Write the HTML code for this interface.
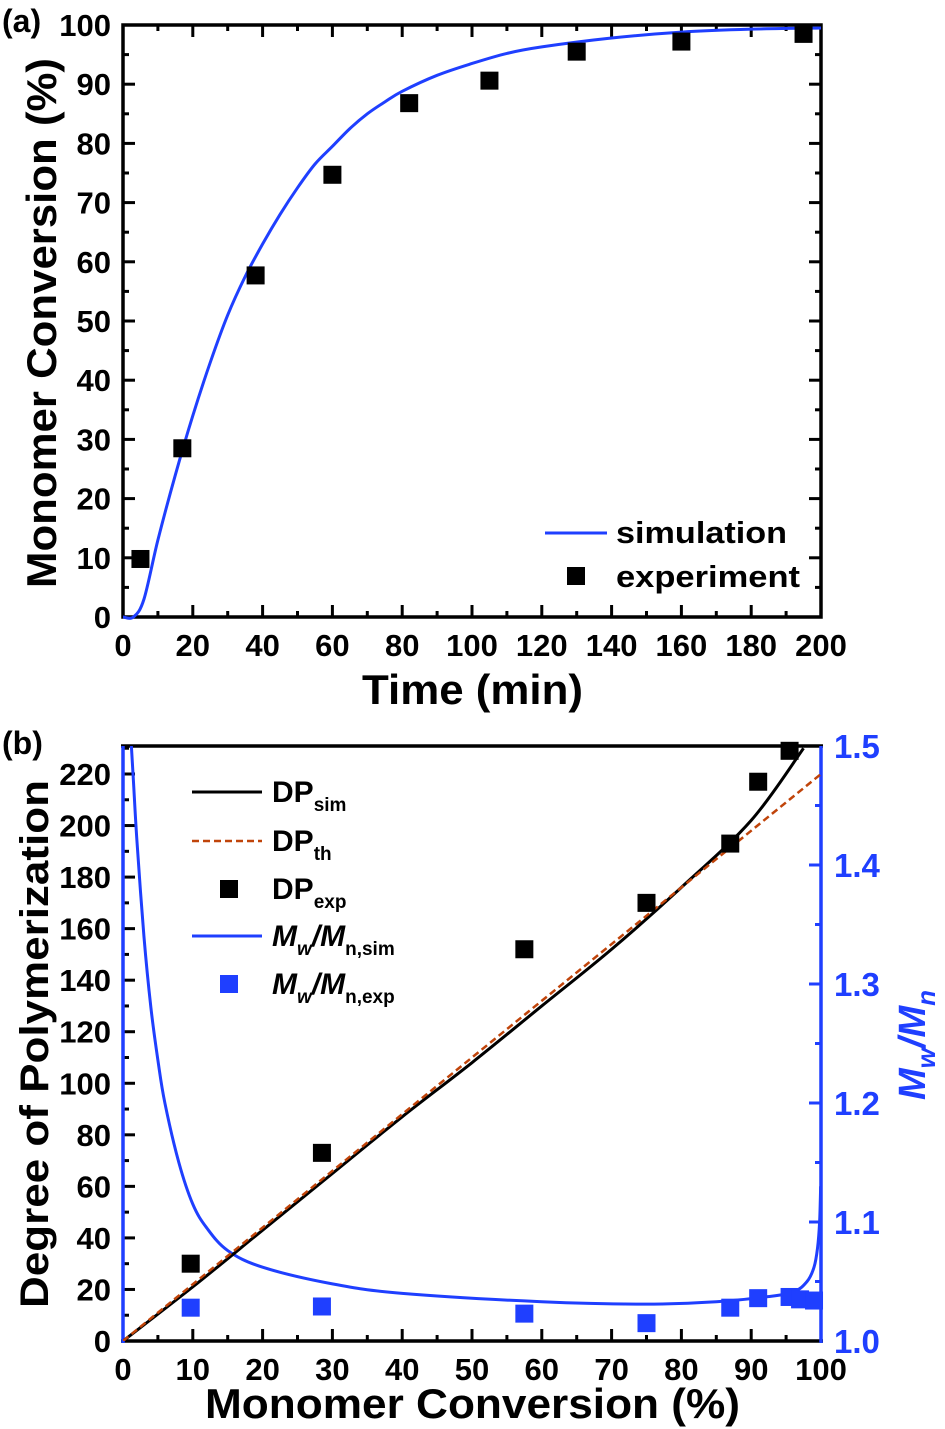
<!DOCTYPE html>
<html><head><meta charset="utf-8"><style>
html,body{margin:0;padding:0;background:#fff}
svg{display:block;font-family:"Liberation Sans",Arial,sans-serif;font-weight:bold}
</style></head><body>
<svg id="fig" width="945" height="1429" viewBox="0 0 945 1429" xmlns="http://www.w3.org/2000/svg"></svg>
<script>
// Panel (a) data
const aSimT=[0,3,6,10,15,20,25,30,35,40,45,50,55,60,65,70,75,80,90,100,110,120,140,160,180,200];
const aSimC=[0,0,3,13,24,34,43,51,57.5,63,68,72.5,76.5,79.5,82.5,85,87,88.8,91.5,93.5,95.2,96.3,97.8,98.8,99.3,99.5];
const aExpT=[5,17,38,60,82,105,130,160,195];
const aExpC=[9.8,28.5,57.7,74.7,86.8,90.6,95.5,97.2,98.5];
const aXTicks=[0,20,40,60,80,100,120,140,160,180,200];
const aYTicks=[0,10,20,30,40,50,60,70,80,90,100];
// Panel (b) data
const bSimX=[0,10,20,30,40,50,60,70,80,90,97.5];
const bSimDP=[0,21,43,65,87,108,130,152,176,202,230];
const bThX=[0,100];
const bThDP=[0,220];
const bExpX=[9.7,28.5,57.5,75,87,91,95.5];
const bExpDP=[30,73,152,170,193,217,229];
const bPdiX=[1.2,1.5,2,3,4,5,6,8,10,12,15,20,30,40,60,75,85,92,96,98,99,99.5,99.8,99.95];
const bPdiSim=[1.5,1.47,1.42,1.34,1.28,1.236,1.2,1.15,1.115,1.095,1.076,1.062,1.048,1.040,1.033,1.031,1.033,1.037,1.041,1.05,1.062,1.078,1.1,1.13];
const bPdiExpX=[9.7,28.5,57.5,75,87,91,95.5,97,99];
const bPdiExp=[1.028,1.029,1.023,1.015,1.028,1.036,1.037,1.035,1.034];
const bXTicks=[0,10,20,30,40,50,60,70,80,90,100];
const bYTicks=[0,20,40,60,80,100,120,140,160,180,200,220];
const bY2Ticks=[1.0,1.1,1.2,1.3,1.4,1.5];

const NS="http://www.w3.org/2000/svg";
const svg=document.getElementById('fig');
function el(tag,attrs,parent,text){const e=document.createElementNS(NS,tag);for(const k in attrs)e.setAttribute(k,attrs[k]);if(text!==undefined)e.textContent=text;(parent||svg).appendChild(e);return e;}
function smooth(pts){let d='M'+pts[0][0]+','+pts[0][1];for(let i=0;i<pts.length-1;i++){const p0=pts[Math.max(0,i-1)],p1=pts[i],p2=pts[i+1],p3=pts[Math.min(pts.length-1,i+2)];
const c1=[p1[0]+(p2[0]-p0[0])/6,p1[1]+(p2[1]-p0[1])/6],c2=[p2[0]-(p3[0]-p1[0])/6,p2[1]-(p3[1]-p1[1])/6];d+=' C'+c1+' '+c2+' '+p2;}return d;}
const BLUE="#1f3fff";
const FS=31;

// ---------- Panel a ----------
const ax=v=>123+v*(821-123)/200, ay=v=>617-v*(617-25)/100;
const ga=el('g',{});


let t=el('text',{x:2,y:32,'font-size':32},ga,'(a)');

aXTicks.forEach((v,i)=>{
  el('line',{x1:ax(v),x2:ax(v),y1:617,y2:605,stroke:'#000','stroke-width':3},ga);
  el('line',{x1:ax(v),x2:ax(v),y1:25,y2:37,stroke:'#000','stroke-width':3},ga);
  if(i<aXTicks.length-1){const m=ax(v+10);el('line',{x1:m,x2:m,y1:617,y2:611,stroke:'#000','stroke-width':3},ga);el('line',{x1:m,x2:m,y1:25,y2:31,stroke:'#000','stroke-width':3},ga);}
  const tx=el('text',{x:ax(v),y:656,'font-size':FS,'text-anchor':'middle'},ga,String(v));
  
});
aYTicks.forEach((v,i)=>{
  el('line',{x1:123,x2:135,y1:ay(v),y2:ay(v),stroke:'#000','stroke-width':3},ga);
  el('line',{x1:821,x2:809,y1:ay(v),y2:ay(v),stroke:'#000','stroke-width':3},ga);
  if(i<aYTicks.length-1){const m=ay(v+5);el('line',{x1:123,x2:129,y1:m,y2:m,stroke:'#000','stroke-width':3},ga);el('line',{x1:821,x2:815,y1:m,y2:m,stroke:'#000','stroke-width':3},ga);}
  const ty=el('text',{x:111,y:ay(v)+11,'font-size':FS,'text-anchor':'end'},ga,String(v));
  
});
el('rect',{x:123,y:25,width:698,height:592,fill:'none',stroke:'#000','stroke-width':3.5},ga);
t=el('text',{x:362,y:704,'font-size':42,textLength:221,lengthAdjust:'spacingAndGlyphs'},ga,'Time (min)');

t=el('text',{x:0,y:0,'font-size':42,textLength:530,lengthAdjust:'spacingAndGlyphs',transform:'translate(56,588) rotate(-90)'},ga,'Monomer Conversion (%)');

let p=el('path',{d:smooth(aSimT.map((v,i)=>[ax(v),ay(aSimC[i])])),fill:'none',stroke:BLUE,'stroke-width':3},ga);

aExpT.forEach((v,i)=>{const r=el('rect',{x:ax(v)-9,y:ay(aExpC[i])-9,width:18,height:18,fill:'#000'},ga);
});
el('line',{x1:545,x2:607,y1:533,y2:533,stroke:BLUE,'stroke-width':3},ga);
t=el('text',{x:616,y:543,'font-size':31,textLength:171,lengthAdjust:'spacingAndGlyphs'},ga,'simulation');
el('rect',{x:567,y:567,width:18,height:18,fill:'#000'},ga);
t=el('text',{x:616,y:587,'font-size':31,textLength:184,lengthAdjust:'spacingAndGlyphs'},ga,'experiment');

// ---------- Panel b ----------
const bx=v=>123+v*(821-123)/100, by=v=>1341-v*(1341-774)/220, by2=v=>1341-(v-1)*(1341-746)/0.5;
const gb=el('g',{});


t=el('text',{x:2,y:754,'font-size':32},gb,'(b)');

bXTicks.forEach((v,i)=>{
  el('line',{x1:bx(v),x2:bx(v),y1:1341,y2:1329,stroke:'#000','stroke-width':3},gb);
  if(i<bXTicks.length-1){const m=bx(v+5);el('line',{x1:m,x2:m,y1:1341,y2:1335,stroke:'#000','stroke-width':3},gb);}
  const tx=el('text',{x:bx(v),y:1380,'font-size':FS,'text-anchor':'middle'},gb,String(v));
  
});
bYTicks.forEach(v=>{
  el('line',{x1:123,x2:135,y1:by(v),y2:by(v),stroke:'#000','stroke-width':3},gb);
  el('line',{x1:123,x2:129,y1:by(v+10),y2:by(v+10),stroke:'#000','stroke-width':3},gb);
  const ty=el('text',{x:111,y:by(v)+11,'font-size':FS,'text-anchor':'end'},gb,String(v));
  
});
bY2Ticks.forEach((v,i)=>{
  el('line',{x1:821,x2:809,y1:by2(v),y2:by2(v),stroke:BLUE,'stroke-width':3},gb);
  if(i<bY2Ticks.length-1){const m=by2(v+0.05);el('line',{x1:821,x2:815,y1:m,y2:m,stroke:BLUE,'stroke-width':3},gb);}
  const ty=el('text',{x:834,y:by2(v)+12,'font-size':33,fill:BLUE},gb,v.toFixed(1));
  
});
el('line',{x1:121,x2:823,y1:1341,y2:1341,stroke:'#000','stroke-width':3.5},gb);
el('line',{x1:121,x2:823,y1:746,y2:746,stroke:'#000','stroke-width':3.5},gb);
el('line',{x1:123,x2:123,y1:746,y2:1343,stroke:BLUE,'stroke-width':3.5},gb);
el('line',{x1:821,x2:821,y1:746,y2:1343,stroke:BLUE,'stroke-width':3.5},gb);
t=el('text',{x:205,y:1418,'font-size':42,textLength:535,lengthAdjust:'spacingAndGlyphs'},gb,'Monomer Conversion (%)');

t=el('text',{x:0,y:0,'font-size':40,textLength:528,lengthAdjust:'spacingAndGlyphs',transform:'translate(48,1308) rotate(-90)'},gb,'Degree of Polymerization');

t=el('text',{x:0,y:0,'font-size':38,'text-anchor':'middle',fill:BLUE,'font-style':'italic',transform:'translate(925,1045) rotate(-90)'},gb);

t.innerHTML='M<tspan font-size="26" dy="10">w</tspan><tspan dy="-10">/M</tspan><tspan font-size="26" dy="10">n</tspan>';
const cp=el('clipPath',{id:'cb'},gb);el('rect',{x:123,y:746,width:698,height:595},cp);
const gc=el('g',{'clip-path':'url(#cb)'},gb);
p=el('path',{d:smooth(bPdiX.map((v,i)=>[bx(v),by2(bPdiSim[i])])),fill:'none',stroke:BLUE,'stroke-width':3},gc);

p=el('path',{d:smooth(bSimX.map((v,i)=>[bx(v),by(bSimDP[i])])),fill:'none',stroke:'#000','stroke-width':3},gc);

p=el('polyline',{points:bThX.map((v,i)=>bx(v)+','+by(bThDP[i])).join(' '),fill:'none',stroke:'#c0440a','stroke-width':2.5,'stroke-dasharray':'7,4'},gc);

bExpX.forEach((v,i)=>{const r=el('rect',{x:bx(v)-9,y:by(bExpDP[i])-9,width:18,height:18,fill:'#000'},gb);
});
bPdiExpX.forEach((v,i)=>{const r=el('rect',{x:bx(v)-9,y:by2(bPdiExp[i])-9,width:18,height:18,fill:BLUE},gb);
});
// legend
const lg=el('g',{},gb);

el('line',{x1:192,x2:262,y1:792,y2:792,stroke:'#000','stroke-width':3},lg);
el('text',{x:272,y:802,'font-size':30},lg).innerHTML='DP<tspan font-size="19" dy="9">sim</tspan>';
el('line',{x1:192,x2:262,y1:841,y2:841,stroke:'#c0440a','stroke-width':2.5,'stroke-dasharray':'7,4'},lg);
el('text',{x:272,y:851,'font-size':30},lg).innerHTML='DP<tspan font-size="19" dy="9">th</tspan>';
el('rect',{x:220,y:880,width:18,height:18,fill:'#000'},lg);
el('text',{x:272,y:899,'font-size':30},lg).innerHTML='DP<tspan font-size="19" dy="9">exp</tspan>';
el('line',{x1:192,x2:262,y1:936,y2:936,stroke:BLUE,'stroke-width':3},lg);
el('text',{x:272,y:946,'font-size':30,'font-style':'italic'},lg).innerHTML='M<tspan font-size="19" dy="9">w</tspan><tspan dy="-9">/M</tspan><tspan font-size="19" dy="9" font-style="normal">n,sim</tspan>';
el('rect',{x:220,y:975,width:18,height:18,fill:BLUE},lg);
el('text',{x:272,y:994,'font-size':30,'font-style':'italic'},lg).innerHTML='M<tspan font-size="19" dy="9">w</tspan><tspan dy="-9">/M</tspan><tspan font-size="19" dy="9" font-style="normal">n,exp</tspan>';
</script>
</body></html>
